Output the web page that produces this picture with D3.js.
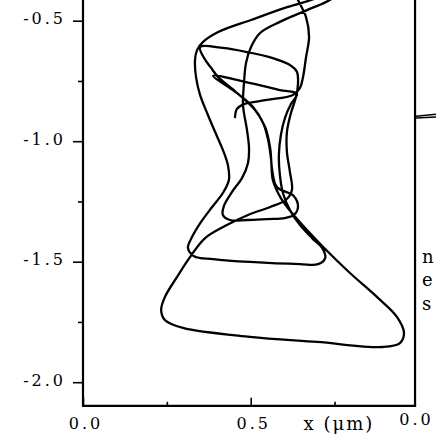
<!DOCTYPE html>
<html><head><meta charset="utf-8">
<script src="https://cdn.jsdelivr.net/npm/d3@7"></script>
<style>html,body{margin:0;padding:0;background:#fff;overflow:hidden;}</style>
</head><body>
<svg id="chart" width="436" height="436"></svg>
<script>
// ---- data ----
const yMajorTicks = [-0.5, -1.0, -1.5, -2.0];
const yTickLabels = ["-0.5", "-1.0", "-1.5", "-2.0"];
const yMinorTicks = [-0.75, -1.25, -1.75];
const xMajorTicks = [0.0, 0.5];
const xTickLabels = ["0.0", "0.5"];
const xMinorTicks = [0.25, 0.75];
const xAxisTitle = "x (\u03bcm)";
const nextPanelTickLabel = "0.0";
const nextPanelLetters = ["n", "e", "s"];
const nextPanelLetterY = [-1.505, -1.601, -1.700];
const nextPanelLineX = [0.003, 0.063];
const nextPanelLineYa = [-0.896, -0.888];
const nextPanelLineYb = [-0.904, -0.900];

// trajectory (x in µm, y in µm)
const trajX = [
0.453,0.459,0.480,0.549,0.626,0.647,0.656,0.665,0.674,0.665,0.641,0.611,0.647,0.736,
0.766,0.680,0.602,0.501,0.403,0.358,0.340,
0.334,0.337,0.349,0.370,0.394,0.417,0.432,0.435,0.417,0.385,0.352,0.325,0.313,0.331,0.388,0.498,0.647,0.701,0.722,0.713,0.683,0.647,0.617,0.596,0.587,0.584,0.590,0.602,0.620,0.638,0.587,0.483,0.388,
0.447,0.507,0.537,0.552,0.561,0.566,0.590,0.623,0.668,0.716,0.796,0.877,0.936,0.957,0.945,0.894,0.698,0.498,0.298,0.244,0.233,0.244,0.280,0.319,0.364,
0.423,0.492,0.558,0.605,0.623,0.617,0.608,0.608,0.620,0.635,0.641,0.638,0.617,0.566,0.489,0.417,0.349,
0.361,0.382,0.403,0.456,0.513,0.543,0.558,0.564,0.578,0.629,0.641,0.629,0.602,0.549,0.489,0.438,0.417,0.420,0.444,0.474,0.492,0.495,
0.489,0.477,0.480,0.486,0.501,0.528,0.587,0.668,0.736,0.796
];
const trajY = [
-0.904,-0.866,-0.846,-0.829,-0.808,-0.779,-0.734,-0.651,-0.568,-0.485,-0.414,-0.331,-0.248,-0.248,
-0.364,-0.414,-0.447,-0.497,-0.547,-0.588,-0.622,
-0.663,-0.734,-0.808,-0.883,-0.962,-1.036,-1.099,-1.161,-1.215,-1.273,-1.335,-1.398,-1.443,-1.477,-1.489,-1.501,-1.510,-1.510,-1.485,-1.443,-1.402,-1.348,-1.286,-1.215,-1.140,-1.057,-0.974,-0.904,-0.846,-0.804,-0.788,-0.754,-0.729,
-0.788,-0.858,-0.925,-0.995,-1.078,-1.161,-1.236,-1.298,-1.369,-1.439,-1.547,-1.647,-1.729,-1.796,-1.838,-1.854,-1.833,-1.812,-1.775,-1.742,-1.700,-1.647,-1.564,-1.481,-1.402,
-1.352,-1.306,-1.273,-1.244,-1.203,-1.128,-1.045,-0.962,-0.883,-0.817,-0.763,-0.713,-0.684,-0.655,-0.630,-0.613,-0.609,
-0.655,-0.696,-0.734,-0.796,-0.871,-0.941,-1.028,-1.119,-1.190,-1.228,-1.273,-1.306,-1.319,-1.323,-1.327,-1.327,-1.306,-1.269,-1.211,-1.153,-1.090,-1.028,
-0.954,-0.850,-0.759,-0.676,-0.609,-0.551,-0.505,-0.456,-0.414,-0.352
];

// ---- chart ----
const svg = d3.select("#chart");
const FONT = "'DejaVu Serif', serif";
const x = d3.scaleLinear().domain([0, 1]).range([83, 418.4]);
const y = d3.scaleLinear().domain([-0.5, -2.0]).range([20.7, 382.2]);
const x2 = d3.scaleLinear().domain([0, 1]).range([415, 750.4]);
const xRight = 0.99, yBottom = -2.098, yTop = -0.39;

// y axis major
const gy = svg.append("g").attr("transform", `translate(${x(0)},0)`)
  .call(d3.axisLeft(y).tickValues(yMajorTicks).tickSize(10).tickPadding(7)
    .tickFormat((d, i) => yTickLabels[i]));
gy.select(".domain").remove();
gy.selectAll("line").attr("stroke", "#000").attr("stroke-width", 1.6);
gy.selectAll("text").attr("font-family", FONT).attr("font-size", 16)
  .attr("letter-spacing", 3).attr("fill", "#000").attr("dy", "0.2em");
// y axis minor
const gym = svg.append("g").attr("transform", `translate(${x(0)},0)`)
  .call(d3.axisLeft(y).tickValues(yMinorTicks).tickSize(5).tickFormat(""));
gym.select(".domain").remove();
gym.selectAll("line").attr("stroke", "#000").attr("stroke-width", 1.6);

// x axis major (inward ticks)
const gx = svg.append("g").attr("transform", `translate(0,${y(yBottom)})`)
  .call(d3.axisBottom(x).tickValues(xMajorTicks).tickSize(-8)
    .tickFormat((d, i) => xTickLabels[i]));
gx.select(".domain").remove();
gx.selectAll("line").attr("stroke", "#000").attr("stroke-width", 1.6);
gx.selectAll("text").attr("font-family", FONT).attr("font-size", 16)
  .attr("letter-spacing", 3).attr("fill", "#000").attr("y", 23).attr("dy", 0).attr("x", 2.5);
const gxm = svg.append("g").attr("transform", `translate(0,${y(yBottom)})`)
  .call(d3.axisBottom(x).tickValues(xMinorTicks).tickSize(-4).tickFormat(""));
gxm.select(".domain").remove();
gxm.selectAll("line").attr("stroke", "#000").attr("stroke-width", 1.6);

// frame lines
svg.append("line").attr("x1", x(0)).attr("x2", x(0)).attr("y1", y(yTop)).attr("y2", y(yBottom) + 1)
  .attr("stroke", "#000").attr("stroke-width", 2.2);
svg.append("line").attr("x1", x(0) - 1).attr("x2", x(xRight) + 1).attr("y1", y(yBottom)).attr("y2", y(yBottom))
  .attr("stroke", "#000").attr("stroke-width", 2.2);
svg.append("line").attr("x1", x(xRight)).attr("x2", x(xRight)).attr("y1", y(yTop)).attr("y2", y(yBottom) + 1)
  .attr("stroke", "#000").attr("stroke-width", 2.2);

// x axis title
svg.append("text").attr("x", x(0.763)).attr("y", y(yBottom) + 24)
  .attr("text-anchor", "middle").attr("font-family", FONT).attr("font-size", 18)
  .attr("letter-spacing", 2).attr("fill", "#000").text(xAxisTitle);

// trajectory
const pts = trajX.map((v, i) => [v, trajY[i]]);
const line = d3.line().x(d => x(d[0])).y(d => y(d[1])).curve(d3.curveCatmullRom.alpha(0.5));
svg.append("path").attr("d", line(pts)).attr("fill", "none")
  .attr("stroke", "#000").attr("stroke-width", 2.3).attr("stroke-linejoin", "round");

// neighbouring panel fragments
svg.append("text").attr("x", x2(0) + 1.5).attr("y", y(yBottom) + 19)
  .attr("text-anchor", "middle").attr("font-family", FONT).attr("font-size", 16)
  .attr("letter-spacing", 3).attr("fill", "#000").text(nextPanelTickLabel);
nextPanelLetters.forEach((t, i) => {
  svg.append("text").attr("x", x2(0.021)).attr("y", y(nextPanelLetterY[i]))
    .attr("font-family", FONT).attr("font-size", 18).attr("fill", "#000").text(t);
});
[nextPanelLineYa, nextPanelLineYb].forEach(ys => {
  svg.append("line").attr("x1", x2(nextPanelLineX[0])).attr("x2", x2(nextPanelLineX[1]))
    .attr("y1", y(ys[0])).attr("y2", y(ys[1])).attr("stroke", "#000").attr("stroke-width", 1.5);
});
</script>
</body></html>
